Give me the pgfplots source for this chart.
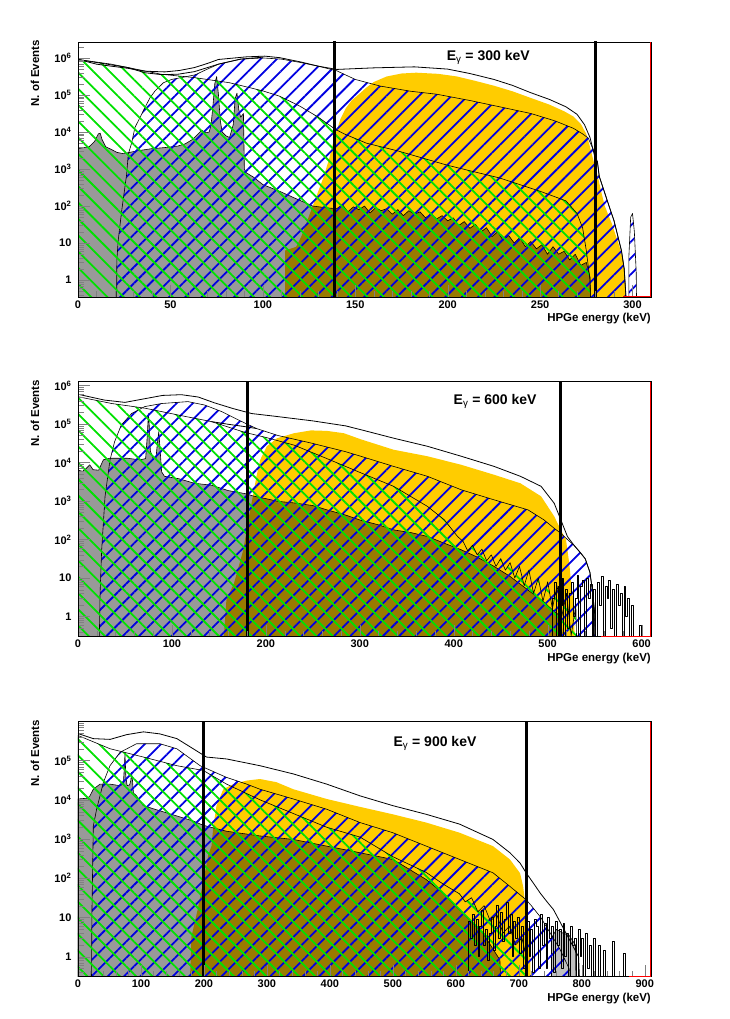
\documentclass[border=0pt]{standalone}
\usepackage{fontspec}
\setmainfont{Liberation Sans}
\usepackage{pgfplots}
\pgfplotsset{compat=1.18}
\usetikzlibrary{patterns.meta}
\definecolor{rootorange}{RGB}{255,204,0}
\definecolor{rootblue}{RGB}{0,0,225}
\definecolor{rootgreen}{RGB}{0,225,0}
\tikzset{
  blueh/.style={draw=black, line width=0.6pt, pattern={Lines[angle=45,distance=11.5pt,line width=1.8pt]}, pattern color=rootblue},
  greenh/.style={draw=black, line width=0.6pt, pattern={Lines[angle=-45,distance=11.5pt,line width=1.8pt]}, pattern color=rootgreen},
  grayf/.style={draw=black, line width=0.6pt, fill=black, fill opacity=0.4},
  orangef/.style={draw=none, fill=rootorange},
  tot/.style={black, line width=0.8pt},
  vline/.style={black, line width=3pt},
}
\pgfplotsset{
  every axis/.append style={
    scale only axis, width=573pt, height=255pt,
    xmin=0,
    axis on top, tick align=inside, tick pos=left,
    axis line style={line width=0.9pt},
    major tick length=12pt, minor tick length=6pt,
    ticklabel style={font=\fontsize{11}{13}\selectfont\bfseries},
    yticklabel style={xshift=-3pt},
    xlabel={HPGe energy (keV)}, ylabel={N. of Events},
    label style={font=\fontsize{11.5}{13}\selectfont\bfseries},
    xlabel style={at={(axis description cs:1,0)}, anchor=north east, inner sep=0pt, yshift=-16pt},
    ylabel style={at={(axis description cs:-0.075,1.008)}, anchor=east, inner sep=0pt},
    minor x tick num=4,
  },
  every axis plot/.append style={mark=none, line join=round},
}
\begin{document}
\begin{tikzpicture}
\path[use as bounding box] (0,0) rectangle (730pt,1019pt);

% ================= Panel 1 : 300 keV =================
\begin{axis}[ymode=log, name=p1, at={(78pt,722pt)}, anchor=south west,
  xmax=310, ymin=0.35, ymax=2.7e6, xtick={0,50,...,300},
  xticklabels={0,50,100,150,200,250,300},
  ytick={1,10,100,1000,1e4,1e5,1e6},
  yticklabels={1,10,10\textsuperscript{2},10\textsuperscript{3},10\textsuperscript{4},10\textsuperscript{5},10\textsuperscript{6}},
  minor ytick={0.4,0.5,0.6,0.7,0.8,0.9,2,3,4,5,6,7,8,9,20,30,40,50,60,70,80,90,200,300,400,500,600,700,800,900,2e3,3e3,4e3,5e3,6e3,7e3,8e3,9e3,2e4,3e4,4e4,5e4,6e4,7e4,8e4,9e4,2e5,3e5,4e5,5e5,6e5,7e5,8e5,9e5,2e6}]
\addplot[orangef] coordinates {(112,0.01)(112,6.3)(118,7.9)(121,15.8)(124,40)(127,100)(130,251)(133,631)(136,2000)(139,7900)(142,2.24e4)(145,4.47e4)(148,7.1e4)(152,1.05e5)(156,1.58e5)(160,2.24e5)(167,3.16e5)(175,3.8e5)(183,4.0e5)(195,3.72e5)(205,3.16e5)(215,2.4e5)(225,1.78e5)(235,1.26e5)(245,8.3e4)(255,5.5e4)(263,3.63e4)(268,2.63e4)(272,1.66e4)(275,8900)(277,3980)(279,1580)(281,708)(283,251)(285,100)(287,56)(289,31.6)(291,15.8)(293,7.9)(295,3.16)(296,1.26)(297,0.01)};
\addplot[grayf] coordinates {(0,0.01)(0,3550)(3,3800)(6,3980)(9,5600)(11,8900)(12,9300)(13,6300)(15,3980)(18,3390)(21,2820)(24,2630)(27,2750)(33,3160)(40,3550)(47,3800)(54,4170)(58,4790)(62,6300)(65,8900)(67,1.12e4)(69,9500)(71,1.0e4)(72,1.58e4)(73,5.0e4)(74,2.0e5)(75,3.16e5)(76,1.0e5)(77,2.0e4)(78,1.0e4)(80,7900)(82,7100)(84,1.58e4)(85,7.9e4)(86,1.12e5)(87,4.0e4)(88,2.51e4)(89.5,3.16e4)(90,1000)(91,794)(95,600)(100,380)(109,251)(118,158)(127,100)(135,89)(140,85)(143,110)(146,70)(149,95)(152,80)(155,100)(158,65)(161,90)(164,75)(167,85)(170,60)(173,80)(176,55)(179,75)(182,60)(185,70)(188,48)(191,62)(194,45)(197,55)(200,40)(203,48)(206,30)(209,38)(212,25)(215,32)(218,20)(221,26)(224,15)(227,20)(230,12)(233,16)(236,10)(239,14)(242,8)(245,11)(248,7)(251,9)(254,5)(257,8)(260,5)(263,6)(266,3.5)(269,5)(272,2.5)(275,3)(277,1.2)(278,0.01)};
\addplot[blueh] coordinates {(20.8,0.01)(21,3.2)(21.7,11.2)(23.6,72)(26.3,708)(27.2,2510)(29,5000)(30.8,1.32e4)(33.5,2.45e4)(36.2,4.57e4)(39,8.5e4)(41.7,1.29e5)(46.2,2.14e5)(50.7,2.63e5)(58,3.09e5)(63.4,3.5e5)(70,5.0e5)(76,6.8e5)(88,9.3e5)(100,1.0e6)(110,9.3e5)(120,7.6e5)(130,6.0e5)(140,4.5e5)(150,2.63e5)(163.5,1.74e5)(180,1.26e5)(194,1.05e5)(212,7.1e4)(231,4.47e4)(245,3.16e4)(258,2.0e4)(268,1.26e4)(273,8900)(276,6900)(279,3160)(281,1580)(282,631)(284,316)(286,158)(288,79)(290,40)(292,15.8)(294,6.3)(295.5,2.0)(296.5,0.32)(297,0.01)};
\addplot[blueh] coordinates {(298,0.01)(298,4)(299,50)(300,63)(301,20)(302,1.6)(302.5,0.01)};
\addplot[greenh] coordinates {(0,0.01)(0,9.1e5)(18,6.8e5)(45,3.63e5)(63,2.95e5)(82,2.14e5)(100,1.29e5)(109,9.3e4)(120,5.0e4)(130,2.51e4)(139,1.2e4)(144,8900)(156,5000)(173,3090)(200,1260)(228,575)(250,251)(264,138)(270,63)(273,25.7)(275,6.3)(277,1.0)(278,0.01)};
\addplot[tot] coordinates {(0,9.1e5)(5,7.9e5)(10,6.8e5)(18,6.0e5)(27,5.25e5)(36,4.4e5)(47,4.2e5)(55,4.6e5)(63,5.5e5)(70,7.1e5)(76,9.1e5)(91,1.07e6)(101,1.12e6)(109,1.02e6)(120,7.9e5)(130,6.0e5)(140,4.9e5)(160,5.4e5)(182,5.75e5)(200,5.0e5)(212,3.8e5)(225,2.63e5)(235,1.82e5)(245,1.15e5)(255,7.6e4)(264,4.79e4)(270,3.0e4)(274,1.58e4)(277,7100)(280,1780)(281,1580)(282,631)(284,316)(286,158)(288,79)(290,40)(292,15.8)(294,6.3)(295.5,2.0)(296.5,0.32)(297,0.01)};
\addplot[tot] coordinates {(0,9.1e5)(27,5.5e5)(36,4.0e5)(45,3.55e5)(54,3.63e5)(63,4.27e5)(76,6.8e5)(88,9.3e5)(100,1.05e6)};
\addplot[vline] coordinates {(138.6,0.01)(138.6,1e8)};
\addplot[vline] coordinates {(280,0.01)(280,1e8)};
\node[font=\fontsize{14}{16}\selectfont\bfseries] at (rel axis cs:0.716,0.941) {E\textsubscript{\mdseries γ} = 300 keV};
\end{axis}
\draw[red, line width=0.8pt] ([xshift=-28pt,yshift=0.6pt]p1.south east) -- ([xshift=-0.4pt,yshift=0.6pt]p1.south east) -- ([xshift=-0.4pt]p1.north east);

% ================= Panel 2 : 600 keV =================
\begin{axis}[ymode=log, name=p2, at={(78pt,382.3pt)}, anchor=south west,
  xmax=610, ymin=0.3, ymax=1.25e6, xtick={0,100,...,600},
  xticklabels={0,100,200,300,400,500,600},
  ytick={1,10,100,1000,1e4,1e5,1e6},
  yticklabels={1,10,10\textsuperscript{2},10\textsuperscript{3},10\textsuperscript{4},10\textsuperscript{5},10\textsuperscript{6}},
  minor ytick={0.4,0.5,0.6,0.7,0.8,0.9,2,3,4,5,6,7,8,9,20,30,40,50,60,70,80,90,200,300,400,500,600,700,800,900,2e3,3e3,4e3,5e3,6e3,7e3,8e3,9e3,2e4,3e4,4e4,5e4,6e4,7e4,8e4,9e4,2e5,3e5,4e5,5e5,6e5,7e5,8e5,9e5}]
\addplot[orangef] coordinates {(151,0.01)(158,2.7)(166,7.2)(176,54)(182,400)(186,1260)(190,4370)(194,1.17e4)(201,2.63e4)(212,4.27e4)(230,5.75e4)(248,6.8e4)(265,6.6e4)(283,5.75e4)(301,4.0e4)(336,2.14e4)(372,1.45e4)(408,8700)(443,4790)(471,2880)(493,1320)(507,398)(514,178)(519.5,98)(523,24)(525,7.4)(528,1.86)(530,0.01)};
\addplot[grayf] coordinates {(0,0.01)(0,6300)(5,5900)(9,7100)(12.5,8700)(16,6500)(22,6300)(27,1.17e4)(34,1.29e4)(52,1.29e4)(66,1.17e4)(72,1.26e4)(73.5,4.0e4)(75,1.86e5)(76,7.9e4)(77,2.0e4)(80,1.26e4)(83,1.26e4)(84.5,3.16e4)(86,6.3e4)(87.5,2.0e4)(89,5750)(92,4370)(107,3800)(124,2880)(142,2570)(160,1860)(178,1550)(188,1320)(200,1150)(213,977)(230,891)(250,760)(265,589)(285,430)(301,316)(320,240)(336,178)(355,150)(372,120)(390,80)(408,54)(425,35)(443,20)(460,11)(479,4.9)(495,2.5)(505,1.5)(514,1.0)(520,0.01)};
\addplot[blueh] coordinates {(21.7,0.01)(23.5,4.0)(25.2,54)(28.8,1320)(34.1,1.17e4)(39,3.47e4)(46,9.3e4)(57,1.86e5)(71,2.82e5)(89,3.39e5)(117,3.8e5)(135,3.09e5)(153,2.09e5)(171,1.26e5)(190,7.6e4)(213,5.0e4)(249,3.16e4)(285,1.9e4)(301,1.45e4)(336,7900)(372,4370)(408,1950)(443,1070)(479,589)(496,324)(507,195)(514,145)(521,100)(528,71)(535,45)(540,31.6)(545,14)(548,4.0)(550,1.26)(551,0.01)};
\addplot[greenh] coordinates {(0,0.01)(0,5.1e5)(36,3.39e5)(71,2.57e5)(107,1.7e5)(142,1.15e5)(160,8.3e4)(178,6.0e4)(200,4.47e4)(230,2.82e4)(265,1.26e4)(301,5400)(336,2400)(354,1320)(372,724)(390,324)(404,120)(410,89)(415,50)(420,71)(425,40)(430,56)(435,28)(440,40)(445,20)(450,32)(455,16)(460,25)(465,10)(470,20)(475,6.3)(480,16)(485,4)(490,10)(495,2.5)(500,8)(505,1.6)(510,6.3)(515,1)(520,4)(525,0.32)(530,2)(532,0.01)};
\addplot[black, line width=0.5pt, const plot] coordinates {(505,0.05)(505,3)(507,8)(509,0.05)(511,6)(513,2)(515,10)(517,0.05)(519,5)(521,0.5)(523,4)(525,8)(527,1)(529,3)(531,12)(533,0.05)(535,6)(537,9)(539,0.05)(541,10)(543,3)(545,7)(547,0.05)(549,5)(551,0.05)(553,8)(555,2)(557,11)(559,0.05)(561,6)(563,3)(565,9)(567,0.5)(569,5)(571,0.05)(573,7)(575,2)(577,4)(579,0.05)(581,6)(583,1)(585,3)(587,0.05)(589,2)(591,0.05)(598,0.05)(598,0.6)(600,0.05)};
\addplot[tot] coordinates {(0,5.9e5)(28,4.17e5)(50,3.63e5)(70,4.47e5)(90,5.5e5)(110,5.75e5)(128,5.0e5)(145,3.55e5)(165,2.51e5)(185,1.86e5)(210,1.58e5)(250,1.2e5)(285,8.9e4)(301,7.1e4)(336,4.27e4)(372,2.63e4)(408,1.45e4)(443,7900)(471,4370)(493,2400)(507,870)(514,324)(521,120)(528,71)(535,45)(540,31.6)(545,14)(548,4.0)(550,1.26)(551,0.01)};
\addplot[tot] coordinates {(142,1.15e5)(160,9.8e4)(178,8.5e4)(190,7.6e4)};
\addplot[vline] coordinates {(180,0.01)(180,1e8)};
\addplot[vline] coordinates {(514,0.01)(514,1e8)};
\node[font=\fontsize{14}{16}\selectfont\bfseries] at (rel axis cs:0.728,0.922) {E\textsubscript{\mdseries γ} = 600 keV};
\end{axis}
\draw[red, line width=0.8pt] ([xshift=-50pt,yshift=0.6pt]p2.south east) -- ([xshift=-0.4pt,yshift=0.6pt]p2.south east) -- ([xshift=-0.4pt]p2.north east);

% ================= Panel 3 : 900 keV =================
\begin{axis}[ymode=log, name=p3, at={(78pt,42.3pt)}, anchor=south west,
  xmax=910, ymin=0.31, ymax=9.8e5, xtick={0,100,...,900},
  xticklabels={0,100,200,300,400,500,600,700,800,900},
  ytick={1,10,100,1000,1e4,1e5},
  yticklabels={1,10,10\textsuperscript{2},10\textsuperscript{3},10\textsuperscript{4},10\textsuperscript{5}},
  minor ytick={0.4,0.5,0.6,0.7,0.8,0.9,2,3,4,5,6,7,8,9,20,30,40,50,60,70,80,90,200,300,400,500,600,700,800,900,2e3,3e3,4e3,5e3,6e3,7e3,8e3,9e3,2e4,3e4,4e4,5e4,6e4,7e4,8e4,9e4,2e5,3e5,4e5,5e5,6e5,7e5,8e5,9e5}]
\addplot[orangef] coordinates {(175,0.01)(180,3.16)(190,15.8)(200,100)(207,400)(212,661)(215,2140)(220,7100)(230.7,1.86e4)(246.6,2.51e4)(267.7,3.09e4)(289,3.39e4)(315,2.82e4)(342,1.86e4)(395,1.05e4)(448,6600)(500,4270)(553,2630)(606,1450)(659,661)(686,302)(702,135)(707,62)(709.5,28)(712,12.9)(715,6.3)(718,2.5)(720,0.01)};
\addplot[grayf] coordinates {(0,0.01)(0,1.05e4)(15,1.1e4)(19,1.26e4)(24.3,1.86e4)(34.9,2.51e4)(50.8,2.51e4)(66.7,2.29e4)(72,2.51e4)(73.5,6.3e4)(74.6,1.48e5)(76,4.0e4)(78,2.29e4)(82,2.4e4)(84,3.16e4)(85,5.0e4)(86.5,3.16e4)(88,1.5e4)(93,1.26e4)(103.7,7100)(130,5250)(156.6,3890)(183,2880)(199,2240)(236,1580)(289,1200)(342,977)(395,661)(448,447)(500,302)(527,166)(553,93)(579.5,42)(595,23)(616,10.7)(643,4.0)(670,0.83)(675,0.01)};
\addplot[grayf, fill opacity=0.25] coordinates {(752,0.01)(752,3)(760,5)(770,4)(780,3.5)(790,2)(792,0.01)};
\addplot[blueh] coordinates {(21,0.01)(22,10)(23,100)(24.3,2140)(29.6,5750)(40.2,2.75e4)(50.8,7.4e4)(66.7,1.62e5)(93,2.69e5)(130,2.69e5)(157,2.0e5)(194,7.4e4)(236,3.72e4)(268,2.51e4)(289,1.86e4)(342,1.05e4)(395,5750)(448,2630)(500,1450)(553,661)(606,302)(659,138)(686,62)(712,28)(720,20)(735,10)(750,4)(765,1.6)(780,0.5)(785,0.01)};
\addplot[greenh] coordinates {(0,0.01)(0,4.37e5)(51,2.0e5)(104,1.23e5)(157,7.4e4)(199,5.6e4)(236,2.51e4)(289,1.0e4)(342,4470)(395,2000)(448,1120)(500,355)(553,141)(580,71)(606,40)(615,25)(625,32)(635,14)(645,20)(655,8)(665,12)(675,4)(685,6)(695,2)(705,3)(712,1)(720,0.01)};
\addplot[black, line width=0.5pt, const plot] coordinates {(620,0.05)(620,8)(623,3)(626,12)(629,2)(632,9)(635,1)(638,6)(641,15)(644,2)(647,5)(650,0.8)(653,4)(656,10)(659,1.5)(662,6)(665,20)(668,3)(671,14)(674,2.5)(677,9)(680,25)(683,4)(686,12)(689,1)(692,8)(695,3)(698,10)(701,1.2)(704,6)(707,0.5)(710,4)(713,8)(716,1)(719,5)(722,0.4)(725,9)(728,6)(731,0.5)(734,12)(737,2)(740,7)(743,0.5)(746,10)(749,3)(752,6)(755,0.4)(758,8)(761,2)(764,5)(767,0.5)(770,7)(773,1)(776,4)(779,0.3)(782,6)(785,2)(788,3)(791,0.3)(794,5)(797,1)(800,3)(803,0.3)(806,4)(809,0.5)(812,2)(815,0.05)(818,3)(821,0.05)(826,2)(829,0.05)(834,1.5)(837,0.05)(848,0.05)(848,2.5)(851,0.05)(866,0.05)(866,1.2)(869,0.05)};
\addplot[tot] coordinates {(0,4.9e5)(24,3.63e5)(51,3.47e5)(77,4.57e5)(104,5.4e5)(130,4.79e5)(157,3.63e5)(183,2.0e5)(204,1.23e5)(236,1.1e5)(289,7.4e4)(342,4.57e4)(395,2.51e4)(448,1.26e4)(500,7100)(553,4270)(606,2400)(659,977)(686,447)(702,245)(712,135)(723,76)(734,42)(745,25)(755,16)(765,8)(775,4)(785,2)(795,1)(800,0.01)};
\addplot[vline] coordinates {(199,0.01)(199,1e8)};
\addplot[vline] coordinates {(712,0.01)(712,1e8)};
\node[font=\fontsize{14}{16}\selectfont\bfseries] at (rel axis cs:0.623,0.916) {E\textsubscript{\mdseries γ} = 900 keV};
\end{axis}
\draw[red, line width=0.8pt] ([xshift=-22pt,yshift=0.6pt]p3.south east) -- ([xshift=-0.4pt,yshift=0.6pt]p3.south east) -- ([xshift=-0.4pt]p3.north east);
\end{tikzpicture}
\end{document}
